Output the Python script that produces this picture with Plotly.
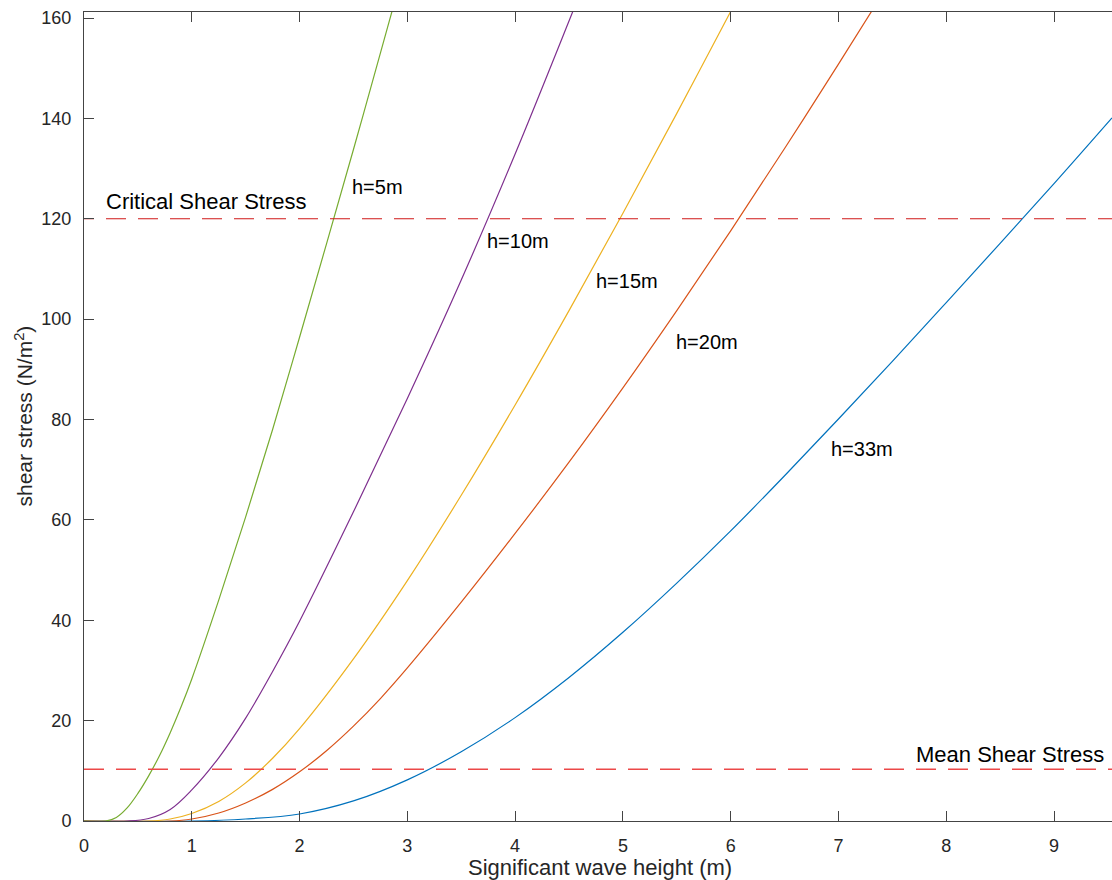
import plotly.graph_objects as go

# ---- data ----
h5_x = [0, 0.2, 0.3, 0.4, 0.5, 0.6, 0.7, 0.8, 0.9, 1.0, 1.25, 1.5, 1.75, 2.0, 2.25, 2.5, 2.75, 2.9]
h5_y = [0, 0, 0.7, 2.6, 5.5, 9.0, 13.0, 17.6, 22.7, 28.3, 44.0, 60.6, 78.0, 96.4, 115.0, 133.8, 153.0, 164.6]

h10_x = [0, 0.4, 0.6, 0.8, 1.0, 1.25, 1.5, 1.75, 2.0, 2.5, 3.0, 3.5, 4.0, 4.5, 4.6]
h10_y = [0, 0, 0.5, 2.3, 6.2, 12.6, 20.5, 29.8, 39.8, 61.6, 84.2, 107.8, 132.9, 159.4, 164.8]

h15_x = [0, 0.6, 0.8, 1.0, 1.25, 1.5, 1.75, 2.0, 2.5, 3.0, 3.5, 4.0, 4.5, 5.0, 5.5, 6.0, 6.05]
h15_y = [0, 0, 0.4, 1.5, 3.9, 7.6, 12.5, 18.4, 32.3, 47.9, 64.9, 82.9, 101.7, 121.1, 141.0, 161.3, 163.3]

h20_x = [0, 0.8, 1.0, 1.25, 1.5, 1.75, 2.0, 2.25, 2.5, 2.75, 3.0, 3.5, 4.0, 4.5, 5.0, 5.5, 6.0, 6.5, 7.0, 7.35]
h20_y = [0, 0, 0.4, 1.6, 3.6, 6.3, 9.8, 14.0, 18.9, 24.4, 30.5, 43.6, 57.3, 71.5, 86.3, 101.7, 117.6, 134.0, 150.8, 162.8]

h33_x = [0, 1.0, 1.5, 2.0, 2.5, 3.0, 3.5, 4.0, 4.5, 5.0, 5.5, 6.0, 6.5, 7.0, 7.5, 8.0, 8.5, 9.0, 9.538]
h33_y = [0, 0, 0.4, 1.4, 4.0, 8.2, 13.8, 20.6, 28.6, 37.6, 47.4, 57.8, 68.8, 80.1, 91.6, 103.3, 115.1, 127.0, 140.1]

critical_stress = 120
mean_stress = 10.3

x_ticks = [0, 1, 2, 3, 4, 5, 6, 7, 8, 9]
y_ticks = [0, 20, 40, 60, 80, 100, 120, 140, 160]
x_range = [0, 9.538]
y_range = [0, 161.2]

series = [
    ("h=33m", h33_x, h33_y, "#0072BD"),
    ("h=20m", h20_x, h20_y, "#D95319"),
    ("h=15m", h15_x, h15_y, "#EDB120"),
    ("h=10m", h10_x, h10_y, "#7E2F8E"),
    ("h=5m", h5_x, h5_y, "#77AC30"),
]

# label anchor positions (data coords)
label_pos = {
    "h=5m": (2.47, 126.4),
    "h=10m": (3.72, 115.5),
    "h=15m": (4.73, 107.6),
    "h=20m": (5.47, 95.4),
    "h=33m": (6.91, 74.1),
}

FONT = "Liberation Sans, Arial, Helvetica, sans-serif"
AXC = "#444444"

fig = go.Figure()
for name, xs, ys, col in series:
    fig.add_trace(go.Scatter(x=xs, y=ys, mode="lines", name=name,
                             line=dict(color=col, width=1.2, shape="spline", smoothing=1.0),
                             showlegend=False, hoverinfo="skip"))

fig.add_trace(go.Scatter(x=[-0.0928, x_range[1]], y=[critical_stress, critical_stress], mode="lines",
                         line=dict(color="#D01818", width=1.2, dash="20px,12px"),
                         showlegend=False, hoverinfo="skip"))
fig.add_trace(go.Scatter(x=[0, x_range[1]], y=[mean_stress, mean_stress], mode="lines",
                         line=dict(color="#EC4848", width=1.4, dash="20px,12px"),
                         showlegend=False, hoverinfo="skip"))

annos = []
for name, (lx, ly) in label_pos.items():
    annos.append(dict(x=lx, y=ly, xref="x", yref="y", text=name, showarrow=False,
                      xanchor="left", yanchor="middle", font=dict(size=20, color="black", family=FONT)))
annos.append(dict(x=0.19, y=123.5, xref="x", yref="y", text="Critical Shear Stress", showarrow=False,
                  xanchor="left", yanchor="middle", font=dict(size=22, color="black", family=FONT)))
annos.append(dict(x=9.48, y=13.35, xref="x", yref="y", text="Mean Shear Stress", showarrow=False,
                  xanchor="right", yanchor="middle", font=dict(size=22, color="black", family=FONT)))
annos.append(dict(x=0.502, y=-0.057, xref="paper", yref="paper", text="Significant wave height (m)",
                  showarrow=False, xanchor="center", yanchor="middle",
                  font=dict(size=22, color="#262626", family=FONT)))
annos.append(dict(x=(23 - 84) / 1028, y=0.5, xref="paper", yref="paper",
                  text="shear stress (N/m<sup>2</sup>)", textangle=-90,
                  showarrow=False, xanchor="center", yanchor="middle",
                  font=dict(size=21, color="#262626", family=FONT)))

fig.update_layout(
    width=1112, height=880,
    margin=dict(l=84, r=0, t=12, b=59),
    paper_bgcolor="white", plot_bgcolor="white",
    annotations=annos,
    xaxis=dict(range=x_range, tickvals=x_ticks, ticktext=[str(v) for v in x_ticks],
               ticks="inside", ticklen=10, tickcolor=AXC, tickwidth=1,
               showline=True, linecolor=AXC, linewidth=1, mirror="ticks",
               showgrid=False, zeroline=False, ticklabelstandoff=8,
               tickfont=dict(size=18, color="#262626", family=FONT)),
    yaxis=dict(range=y_range, tickvals=y_ticks, ticktext=[str(v) for v in y_ticks],
               ticks="inside", ticklen=10, tickcolor=AXC, tickwidth=1,
               showline=True, linecolor=AXC, linewidth=1, mirror=False,
               showgrid=False, zeroline=False, ticklabelstandoff=8,
               tickfont=dict(size=18, color="#262626", family=FONT)),
    yaxis2=dict(range=y_range, tickvals=y_ticks, overlaying="y", side="right",
                ticks="inside", ticklen=6, tickcolor=AXC, tickwidth=1,
                showline=False, showgrid=False, zeroline=False, showticklabels=False),
)

fig.write_html("out.html")
